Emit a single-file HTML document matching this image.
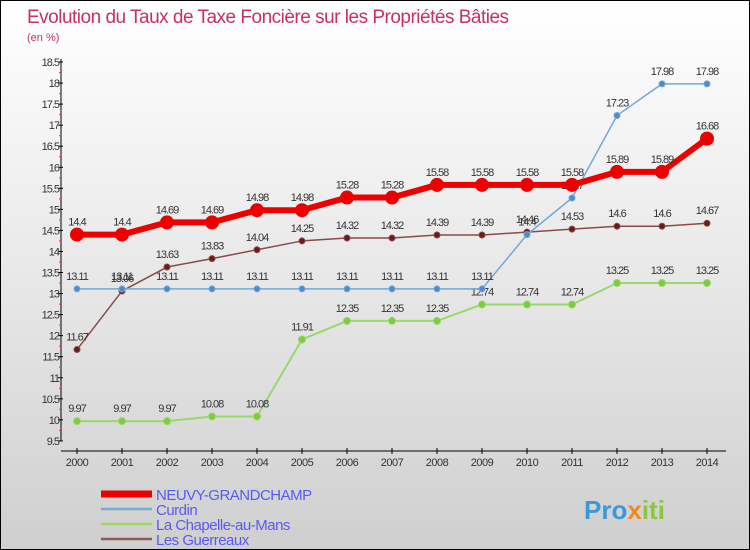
<!DOCTYPE html>
<html><head><meta charset="utf-8"><style>
body{margin:0}
#c{width:750px;height:550px;position:relative;box-sizing:border-box;border:1px solid #000;background:linear-gradient(#fff,#e8e8e8 50%,#cfcfcf);font-family:"Liberation Sans",sans-serif;overflow:hidden}
svg text{font-family:"Liberation Sans",sans-serif}
</style></head><body>
<div id="c">
<svg id="s" width="750" height="550">
<text x="26" y="22" font-size="19" fill="#c8315f" letter-spacing="-0.5">Evolution du Taux de Taxe Foncière sur les Propriétés Bâties</text>
<text x="26" y="40" font-size="11" fill="#c8315f">(en %)</text>
<g id="ax"></g><g id="series"></g><g id="legend"></g>
<text x="583" y="518" font-size="26" font-weight="bold" fill="#3a9ad9">Pro<tspan fill="#f08a1c">x</tspan><tspan fill="#8cc63f">iti</tspan></text>
</svg></div>
<script>
const years=[2000,2001,2002,2003,2004,2005,2006,2007,2008,2009,2010,2011,2012,2013,2014];
const yTicks=[9.5,10,10.5,11,11.5,12,12.5,13,13.5,14,14.5,15,15.5,16,16.5,17,17.5,18,18.5];
const neuvy=[14.4,14.4,14.69,14.69,14.98,14.98,15.28,15.28,15.58,15.58,15.58,15.58,15.89,15.89,16.68];
const curdin=[13.11,13.11,13.11,13.11,13.11,13.11,13.11,13.11,13.11,13.11,14.4,15.27,17.23,17.98,17.98];
const chapelle=[9.97,9.97,9.97,10.08,10.08,11.91,12.35,12.35,12.35,12.74,12.74,12.74,13.25,13.25,13.25];
const guerreaux=[11.67,13.06,13.63,13.83,14.04,14.25,14.32,14.32,14.39,14.39,14.46,14.53,14.6,14.6,14.67];
const names=["NEUVY-GRANDCHAMP","Curdin","La Chapelle-au-Mans","Les Guerreaux"];
const NS="http://www.w3.org/2000/svg";
const X=i=>76+i*45, Y=v=>61+(18.5-v)*42.1;
function mk(p,t,a,txt){const e=document.createElementNS(NS,t);for(const k in a)e.setAttribute(k,a[k]);if(txt!==undefined)e.textContent=txt;p.appendChild(e);return e;}
const ax=document.getElementById('ax');
let e=mk(ax,'line',{x1:60,y1:58,x2:60,y2:440,stroke:'#000','stroke-width':1});

e=mk(ax,'line',{x1:60,y1:450,x2:725,y2:450,stroke:'#000','stroke-width':1});

yTicks.forEach((t,i)=>{const y=Y(t);
 mk(ax,'line',{x1:57,y1:y,x2:62,y2:y,stroke:'#000'});
 if(i<yTicks.length-1)mk(ax,'line',{x1:58,y1:y-10.5,x2:60,y2:y-10.5,stroke:'#f33'});
 e=mk(ax,'text',{x:58,y:y+4,'font-size':11,'text-anchor':'end',fill:'#333','letter-spacing':'-1'},String(t));
 });
years.forEach((yr,i)=>{const x=X(i);
 mk(ax,'line',{x1:x,y1:447,x2:x,y2:453,stroke:'#000'});
 e=mk(ax,'text',{x:x,y:465,'font-size':11,'text-anchor':'middle',fill:'#333','letter-spacing':'-0.5'},String(yr));
 });
const sg=document.getElementById('series');
function series(data,color,dot,w,r,name){
 const g=mk(sg,'g',{});
 
 mk(g,'polyline',{points:data.map((v,i)=>X(i)+','+Y(v)).join(' '),fill:'none',stroke:color,'stroke-width':w,'stroke-linejoin':'round'});
 data.forEach((v,i)=>{
  e=mk(g,'circle',{cx:X(i),cy:Y(v),r:r,fill:dot,stroke:color,'stroke-width':1});
  
  e=mk(g,'text',{x:X(i),y:Y(v)-9,'font-size':11,'text-anchor':'middle',fill:'#333','letter-spacing':'-1'},String(v));
  });
}
series(chapelle,'#9ad86a','#7ccc3c',2,3.5,'series-la-chapelle');
series(guerreaux,'#8a4a4a','#6a1a1a',1.5,3,'series-les-guerreaux');
series(curdin,'#74a8d8','#4a8ccc',1.5,3,'series-curdin');
series(neuvy,'#ee0000','#ee0000',6,6.5,'series-neuvy');
const lg=document.getElementById('legend');
const cols=['#ee0000','#7aaad0','#9ad86a','#8a5a5a'],ws=[7,2.5,2.5,2.5];
names.forEach((n,i)=>{const y=493+i*15;
 e=mk(lg,'line',{x1:100,y1:y,x2:151,y2:y,stroke:cols[i],'stroke-width':ws[i]});
 
 e=mk(lg,'text',{x:155,y:y+6,'font-size':15,fill:'#5a5af0','letter-spacing':'-0.5'},n);
 });
</script></body></html>
